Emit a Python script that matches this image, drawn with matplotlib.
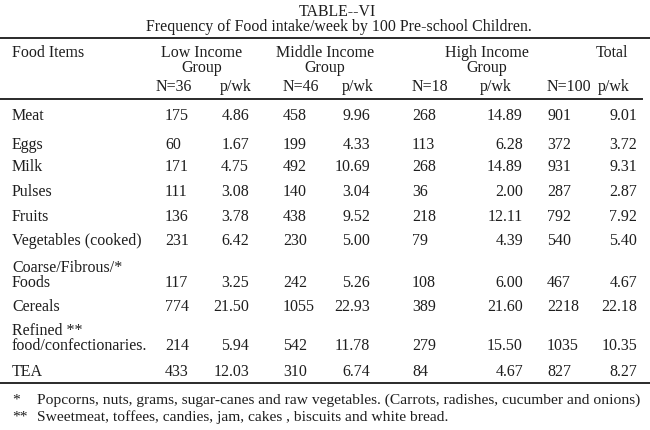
import matplotlib
matplotlib.use("Agg")
import matplotlib.pyplot as plt
from matplotlib.lines import Line2D

# ---- data ----
items = ["Meat", "Eggs", "Milk", "Pulses", "Fruits", "Vegetables (cooked)",
         "Coarse/Fibrous/*\nFoods", "Cereals", "Refined **\nfood/confectionaries.", "TEA"]
low_n = [175, 60, 171, 111, 136, 231, 117, 774, 214, 433]
low_p = [4.86, 1.67, 4.75, 3.08, 3.78, 6.42, 3.25, 21.50, 5.94, 12.03]
mid_n = [458, 199, 492, 140, 438, 230, 242, 1055, 542, 310]
mid_p = [9.96, 4.33, 10.69, 3.04, 9.52, 5.00, 5.26, 22.93, 11.78, 6.74]
high_n = [268, 113, 268, 36, 218, 79, 108, 389, 279, 84]
high_p = [14.89, 6.28, 14.89, 2.00, 12.11, 4.39, 6.00, 21.60, 15.50, 4.67]
tot_n = [901, 372, 931, 287, 792, 540, 467, 2218, 1035, 827]
tot_p = [9.01, 3.72, 9.31, 2.87, 7.92, 5.40, 4.67, 22.18, 10.35, 8.27]
groups = ["Low Income\nGroup", "Middle Income\nGroup", "High Income\nGroup", "Total"]
group_sizes = ["N=36", "N=46", "N=18", "N=100"]
title = "TABLE--VI"
subtitle = "Frequency of Food intake/week by 100 Pre-school Children."
foot_marks = ["*", "**"]
footnotes = ["Popcorns, nuts, grams, sugar-canes and raw vegetables. (Carrots, radishes, cucumber and onions)",
             "Sweetmeat, toffees, candies, jam, cakes , biscuits and white bread."]

# ---- layout ----
W, H = 650, 431
fig = plt.figure(figsize=(W / 100, H / 100), dpi=100)
fig.patch.set_facecolor("white")
FONT = "Liberation Serif"
FS = 11.5
COL = "#1e1e1e"


def T(x, y, s, ha="left", size=FS, **kw):
    fig.text(x / W, 1 - y / H, s, ha=ha, va="center", fontsize=size,
             family=FONT, color=COL, **kw)


def rule(y, x0=0, x1=W, lw=1.4):
    fig.add_artist(Line2D([x0 / W, x1 / W], [1 - y / H, 1 - y / H],
                          transform=fig.transFigure, color="#2a2a2a", lw=lw))


T(337, 12, title, ha="center", size=11.4)
T(339, 27, subtitle, ha="center", size=11.4)
rule(39)
rule(100, 0, 642)
rule(384)

T(12, 53, "Food Items")
group_cx = [202, 325, 487, 612]
for g, cx in zip(groups, group_cx):
    T(cx, 60.5 if "\n" in g else 53, g, ha="center", linespacing=0.92)

n_x = [156, 283, 412, 547]
p_x = [220, 342, 480, 598]
for s, nx, px in zip(group_sizes, n_x, p_x):
    T(nx, 87, s)
    T(px, 87, "p/wk")

row_y = [116, 145, 167, 192, 217, 241, 283, 307, 346, 372]
count_x = [165, 283, 412, 547]
rate_x = [249, 370, 523, 637]
for i, name in enumerate(items):
    y = row_y[i]
    if "\n" in name:
        first, second = name.split("\n")
        T(12, y - 15, first)
        T(11.5, y, second)
    else:
        T(12, y, name)
    for cx, rx, ns, ps in zip(count_x, rate_x, [low_n, mid_n, high_n, tot_n],
                              [low_p, mid_p, high_p, tot_p]):
        T(cx, y, str(ns[i]))
        T(rx, y, f"{ps[i]:.2f}", ha="right")

for k, (m, t) in enumerate(zip(foot_marks, footnotes)):
    y = 400 + 17 * k
    T(12, y, m, size=11.15)
    T(37, y, t, size=11.15)

fig.savefig("out.png", dpi=100, facecolor="white")
